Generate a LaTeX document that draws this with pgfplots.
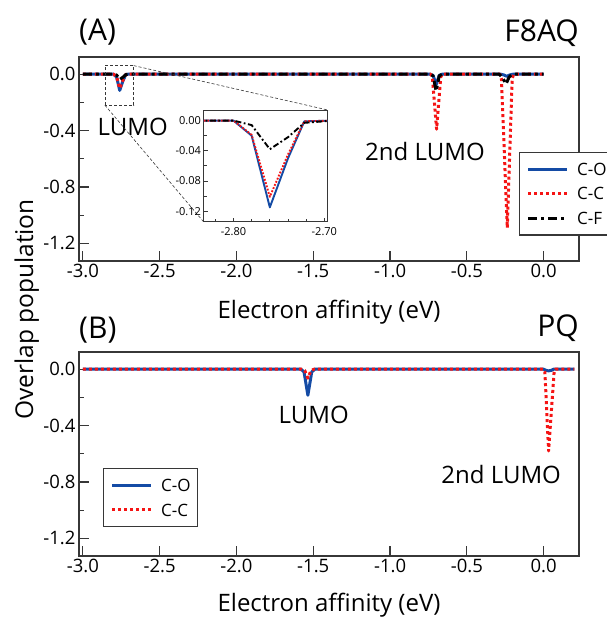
\documentclass[border=0pt]{standalone}
\usepackage{pgfplots}
\pgfplotsset{compat=1.18}
\usepackage{fontspec}
\setmainfont{Open Sans}

\definecolor{coblue}{RGB}{20,75,165}
\definecolor{ccred}{RGB}{245,20,20}
\definecolor{axgray}{RGB}{55,55,55}

\pgfplotsset{
  panel/.style={
    scale only axis, width=500pt, height=204pt,
    xmin=-3.025, xmax=0.23, ymin=-1.325, ymax=0.122,
    xtick={-3,-2.5,-2,-1.5,-1,-0.5,0},
    ytick={-1.2,-0.8,-0.4,0},
    minor ytick={-1,-0.6,-0.2},
    tick pos=left, tick align=inside,
    major tick length=10pt, minor tick length=5pt,
    axis line style={axgray, line width=1.2pt},
    every tick/.style={axgray, line width=1.2pt},
    ticklabel style={font=\fontsize{18.5}{20}\selectfont},
    /pgf/number format/fixed, /pgf/number format/fixed zerofill,
    /pgf/number format/precision=1,
    /pgf/number format/assume math mode=true,
    legend cell align=left,
    legend image code/.code={\draw[#1] (0pt,0pt) -- (39pt,0pt);},
    legend style={draw=axgray, line width=1.2pt, fill=white,
      font=\fontsize{17}{20}\selectfont,
      nodes={inner sep=0pt, text height=12.2pt, text depth=0pt},
      row sep=12.5pt, column sep=8.5pt,
      inner xsep=7pt, inner ysep=10.5pt},
  },
  co/.style={coblue, line width=3pt, line join=round, no marks},
  cc/.style={ccred, line width=3pt, line join=round, dash pattern=on 3pt off 3pt, no marks},
  cf/.style={black, line width=3pt, line join=round, dash pattern=on 9pt off 4pt on 3pt off 4pt, no marks},
}

\begin{document}
\begin{tikzpicture}

% ---- panel A: F8AQ
\begin{axis}[panel, name=A, at={(79pt,358pt)}, anchor=south west,
  legend style={at={(rel axis cs:0.88,0.535)}, anchor=north west}]
\addplot[co] coordinates {
  (-3.0,0) (-2.80,0) (-2.78,-0.020) (-2.76,-0.115) (-2.74,-0.050) (-2.72,-0.001) (-2.70,0)
  (-0.74,0) (-0.72,-0.008) (-0.70,-0.075) (-0.68,-0.008) (-0.66,0)
  (-0.28,0) (-0.26,-0.005) (-0.24,-0.015) (-0.22,-0.005) (-0.20,0) (0,0)};
\addlegendentry{C-O}
\addplot[cc] coordinates {
  (-3.0,0) (-2.80,0) (-2.78,-0.019) (-2.76,-0.101) (-2.74,-0.045) (-2.72,-0.001) (-2.70,0)
  (-0.735,0) (-0.725,-0.02) (-0.697,-0.39) (-0.67,-0.02) (-0.66,0)
  (-0.285,0) (-0.275,-0.03) (-0.237,-1.09) (-0.205,-0.03) (-0.195,0) (0,0)};
\addlegendentry{C-C}
\addplot[cf] coordinates {
  (-3.0,0) (-2.80,0) (-2.78,-0.006) (-2.76,-0.038) (-2.74,-0.022) (-2.72,-0.003) (-2.70,0)
  (-0.74,0) (-0.72,-0.012) (-0.70,-0.12) (-0.68,-0.012) (-0.66,0)
  (-0.29,0) (-0.27,-0.02) (-0.245,-0.07) (-0.225,-0.02) (-0.205,0) (0,0)};
\addlegendentry{C-F}
\draw[axgray, line width=0.6pt, dash pattern=on 3pt off 2pt]
  (axis cs:-2.857,-0.219) rectangle (axis cs:-2.669,0.061);
\coordinate (rTR) at (axis cs:-2.669,0.061);
\coordinate (rBL) at (axis cs:-2.857,-0.219);
\node[inner sep=0, font=\fontsize{24}{28}\selectfont] at (axis cs:-2.675,-0.374) {LUMO};
\node[inner sep=0, font=\fontsize{24}{28}\selectfont] at (axis cs:-0.773,-0.548) {2nd LUMO};
\end{axis}

\draw[axgray, line width=0.6pt, dash pattern=on 3pt off 2pt] (rTR) -- (327.7pt,509pt);
\draw[axgray, line width=0.6pt, dash pattern=on 3pt off 2pt] (rBL) -- (203.5pt,397.3pt);

% ---- inset
\begin{axis}[name=inset, at={(203.5pt,397.3pt)}, anchor=south west,
  scale only axis, width=124.2pt, height=111.7pt,
  xmin=-2.833, xmax=-2.6963, ymin=-0.134, ymax=0.014,
  xtick={-2.8,-2.7}, minor xtick={-2.82,-2.78,-2.76,-2.74,-2.72},
  ytick={-0.12,-0.08,-0.04,0}, minor ytick={-0.10,-0.06,-0.02},
  tick pos=left, tick align=inside,
  major tick length=4pt, minor tick length=3pt,
  axis background/.style={fill=white},
  axis line style={axgray, line width=0.8pt},
  every tick/.style={axgray, line width=0.8pt},
  ticklabel style={font=\fontsize{11}{12}\selectfont},
  xticklabel style={yshift=-2pt},
  yticklabel style={xshift=1pt},
  /pgf/number format/fixed, /pgf/number format/fixed zerofill,
  /pgf/number format/precision=2,
  /pgf/number format/assume math mode=true]
\addplot[coblue, line width=1.9pt, line join=round] coordinates {
  (-2.84,0) (-2.80,0) (-2.78,-0.020) (-2.76,-0.115) (-2.74,-0.050) (-2.722,-0.001) (-2.69,0)};
\addplot[ccred, line width=1.9pt, line join=round, dash pattern=on 1.8pt off 1.6pt] coordinates {
  (-2.84,0) (-2.80,0) (-2.78,-0.019) (-2.76,-0.101) (-2.74,-0.045) (-2.722,-0.001) (-2.69,0)};
\addplot[black, line width=1.9pt, line join=round, dash pattern=on 6pt off 2.5pt on 1.8pt off 2.5pt] coordinates {
  (-2.84,0) (-2.80,0) (-2.78,-0.006) (-2.76,-0.038) (-2.74,-0.022) (-2.722,-0.003) (-2.69,0)};
\end{axis}

% ---- panel B: PQ
\begin{axis}[panel, name=B, at={(79pt,63pt)}, anchor=south west,
  legend style={at={(rel axis cs:0.048,0.431)}, anchor=north west}]
\addplot[co] coordinates {
  (-3.0,0) (-1.58,0) (-1.56,-0.02) (-1.535,-0.185) (-1.51,-0.02) (-1.49,0)
  (0.0,0) (0.015,-0.008) (0.032,-0.012) (0.05,-0.008) (0.065,0) (0.2,0)};
\addlegendentry{C-O}
\addplot[cc] coordinates {
  (-3.0,0) (-1.575,0) (-1.555,-0.01) (-1.535,-0.064) (-1.515,-0.01) (-1.495,0)
  (0.0,0) (0.008,-0.02) (0.032,-0.58) (0.068,-0.02) (0.076,0) (0.2,0)};
\addlegendentry{C-C}
\node[inner sep=0, font=\fontsize{24}{28}\selectfont] at (axis cs:-1.497,-0.321) {LUMO};
\node[inner sep=0, font=\fontsize{24}{28}\selectfont] at (axis cs:-0.277,-0.749) {2nd LUMO};
\end{axis}

% ---- titles and labels
\node[inner sep=0, anchor=base west, font=\fontsize{30}{34}\selectfont] at (79pt,578pt) {(A)};
\node[inner sep=0, anchor=base east, font=\fontsize{30}{34}\selectfont] at (579pt,577pt) {F8AQ};
\node[inner sep=0, anchor=base west, font=\fontsize{30}{34}\selectfont] at (79pt,280pt) {(B)};
\node[inner sep=0, anchor=base east, font=\fontsize{30}{34}\selectfont] at (579pt,282pt) {PQ};
\node[inner sep=0, anchor=base, font=\fontsize{24}{28}\selectfont] at (329pt,300pt) {Electron affinity (eV)};
\node[inner sep=0, anchor=base, font=\fontsize{24}{28}\selectfont] at (329pt,7pt) {Electron affinity (eV)};
\node[inner sep=0, anchor=base, rotate=90, font=\fontsize{24.5}{28}\selectfont] at (33pt,309.5pt) {Overlap population};

\pgfresetboundingbox
\useasboundingbox (0,0) rectangle (606pt,619pt);
\end{tikzpicture}
\end{document}
